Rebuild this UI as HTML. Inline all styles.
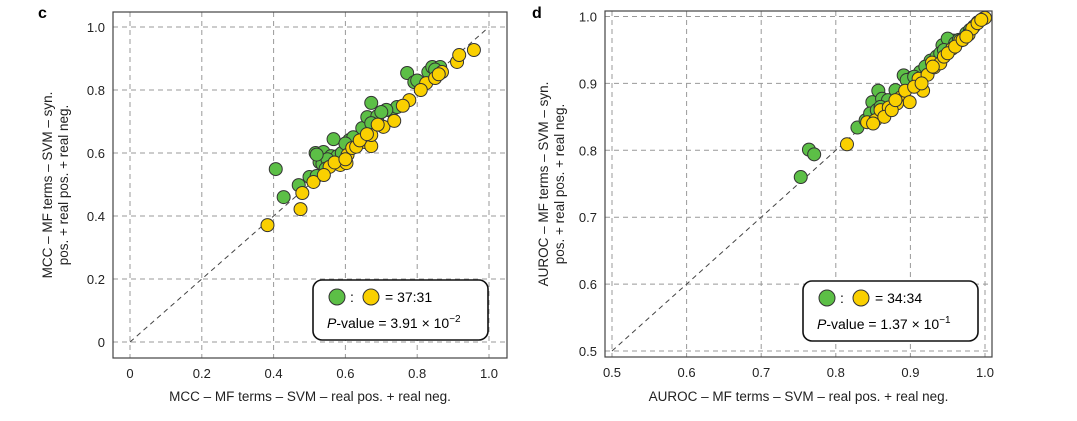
<!DOCTYPE html>
<html><head><meta charset="utf-8">
<style>
body{margin:0;background:#fff;}
svg{display:block;font-family:"Liberation Sans",Arial,sans-serif;}
</style></head>
<body>
<svg id="chart" width="1077" height="421" viewBox="0 0 1077 421" xmlns="http://www.w3.org/2000/svg">
<text x="38" y="18" font-size="16" font-weight="bold">c</text>
<text x="532" y="18" font-size="16" font-weight="bold">d</text>
<g id="panelC"></g>
<g id="panelD"></g>
</svg>
<script>
// Panel c (MCC)
const cTicks = [0, 0.2, 0.4, 0.6, 0.8, 1.0];
const cTickLabels = ["0", "0.2", "0.4", "0.6", "0.8", "1.0"];
const cGreenX = [.406,.428,.47,.50,.52,.517,.539,.528,.536,.56,.567,.578,.567,.611,.622,.647,.661,.672,.689,.672,.728,.744,.772,.792,.811,.831,.842,.864,.714,.55,.545,.59,.60,.70,.80,.85,.52];
const cGreenY = [.549,.46,.498,.524,.527,.60,.603,.571,.565,.59,.571,.59,.644,.641,.65,.679,.714,.759,.717,.695,.733,.746,.854,.825,.81,.857,.873,.873,.737,.58,.55,.60,.63,.73,.83,.865,.595];
const cYellowX = [.383,.475,.48,.511,.556,.586,.603,.606,.619,.653,.672,.672,.706,.736,.778,.825,.85,.869,.911,.917,.958,.57,.63,.64,.69,.76,.81,.86,.54,.60,.66];
const cYellowY = [.371,.422,.473,.508,.556,.562,.568,.594,.616,.635,.622,.657,.683,.702,.768,.822,.838,.857,.889,.911,.927,.57,.62,.64,.69,.75,.80,.85,.53,.58,.66];
// Panel d (AUROC)
const dTicks = [0.5, 0.6, 0.7, 0.8, 0.9, 1.0];
const dTickLabels = ["0.5", "0.6", "0.7", "0.8", "0.9", "1.0"];
const dGreenX = [.753,.764,.771,.829,.84,.849,.857,.862,.891,.903,.884,.927,.943,.958,.99,.998,.846,.913,.95,.87,.88,.92,.935,.96,.975,.985,.855,.895,.94,.965,.98,.86,.905,.945];
const dGreenY = [.760,.801,.794,.834,.845,.872,.889,.877,.912,.909,.887,.934,.957,.964,.991,.997,.855,.917,.967,.875,.89,.925,.94,.96,.975,.985,.86,.905,.945,.965,.98,.865,.91,.95];
const dYellowX = [.815,.842,.853,.86,.871,.887,.893,.899,.917,.911,.923,.932,.929,.956,.967,.978,.983,1.0,.882,.865,.875,.905,.915,.94,.945,.95,.96,.97,.975,.99,.995,.85,.88,.93];
const dYellowY = [.809,.842,.845,.86,.864,.879,.889,.872,.889,.907,.913,.924,.931,.952,.964,.973,.982,.998,.87,.85,.86,.895,.9,.93,.94,.945,.955,.965,.97,.99,.995,.84,.875,.925];

const NS = "http://www.w3.org/2000/svg";
function mk(parent, tag, attrs){const e=document.createElementNS(NS,tag);for(const k in attrs)e.setAttribute(k,attrs[k]);parent.appendChild(e);return e;}

function drawPanel(g, cfg){
  const sx = v => cfg.x0 + (v - cfg.min) * cfg.kx;
  const sy = v => cfg.y0 - (v - cfg.min) * cfg.ky;
  // grid
  cfg.ticks.forEach((t,i)=>{
    const gl = mk(g,'line',{x1:sx(t),x2:sx(t),y1:cfg.top,y2:cfg.bottom,stroke:'#999','stroke-dasharray':'5,4','stroke-width':1});
    
    
    const hl = mk(g,'line',{x1:cfg.left,x2:cfg.right,y1:sy(t),y2:sy(t),stroke:'#999','stroke-dasharray':'5,4','stroke-width':1});
    
    
    const xt = mk(g,'text',{x:sx(t),y:cfg.bottom+20,'font-size':13,'text-anchor':'middle',fill:'#222'});
    xt.textContent = cfg.labels[i];
    
    
    const yt = mk(g,'text',{x:cfg.left-8,y:sy(t)+5,'font-size':13,'text-anchor':'end',fill:'#222'});
    yt.textContent = cfg.labels[i];
    
    
  });
  // diagonal
  const dg = mk(g,'line',{x1:sx(cfg.min),y1:sy(cfg.min),x2:sx(1),y2:sy(1),stroke:'#444','stroke-dasharray':'5,4','stroke-width':1});
  
  
  // points
  const drawPts=(xs,ys,col,name)=>{xs.forEach((v,i)=>{
    const c = mk(g,'circle',{cx:sx(v),cy:sy(ys[i]),r:6.5,fill:col,stroke:'#333','stroke-width':1});
    
    
  });};
  drawPts(cfg.gx,cfg.gy,'#5cbf46','green-point');
  drawPts(cfg.yx,cfg.yy,'#fad000','yellow-point');
  // frame
  const fr = mk(g,'rect',{x:cfg.left,y:cfg.top,width:cfg.right-cfg.left,height:cfg.bottom-cfg.top,fill:'none',stroke:'#444','stroke-width':1.2});
  
  
  // legend
  const L = cfg.leg;
  const lb = mk(g,'rect',{x:L.x,y:L.y,width:L.w,height:60,rx:9,fill:'#fff',stroke:'#111','stroke-width':1.6});
  
  
  const lg = mk(g,'circle',{cx:L.x+24,cy:L.y+17,r:8,fill:'#5cbf46',stroke:'#333'});
  
  
  const lc = mk(g,'text',{x:L.x+37,y:L.y+22,'font-size':14});lc.textContent=':';
  
  
  const ly = mk(g,'circle',{cx:L.x+58,cy:L.y+17,r:8,fill:'#fad000',stroke:'#333'});
  
  
  const lr = mk(g,'text',{x:L.x+72,y:L.y+22,'font-size':14});lr.textContent='= '+L.ratio;
  
  
  const lp = mk(g,'text',{x:L.x+14,y:L.y+48,'font-size':14});
  lp.innerHTML = '<tspan font-style="italic">P</tspan>-value = '+L.p+' × 10<tspan dy="-6" font-size="10">'+L.exp+'</tspan>';
  
  
  // axis titles
  const xt = mk(g,'text',{x:(cfg.left+cfg.right)/2,y:401,'font-size':13.5,'text-anchor':'middle',fill:'#222'});
  xt.textContent = cfg.xTitle;
  
  
  const cy=(cfg.top+cfg.bottom)/2;
  const yt1 = mk(g,'text',{x:0,y:0,'font-size':13.5,'text-anchor':'middle',fill:'#222',transform:`translate(${cfg.ytx},${cy}) rotate(-90)`});
  yt1.textContent = cfg.yTitle1;
  
  
  const yt2 = mk(g,'text',{x:0,y:0,'font-size':13.5,'text-anchor':'middle',fill:'#222',transform:`translate(${cfg.ytx+16},${cy}) rotate(-90)`});
  yt2.textContent = cfg.yTitle2;
  
  
}

drawPanel(document.getElementById('panelC'),{
  min:0,x0:130,y0:342,kx:359,ky:315,left:113,right:507,top:12,bottom:358,
  ticks:cTicks,labels:cTickLabels,gx:cGreenX,gy:cGreenY,yx:cYellowX,yy:cYellowY,
  leg:{x:313,y:280,w:175,ratio:'37:31',p:'3.91',exp:'−2'},
  xTitle:'MCC – MF terms – SVM – real pos. + real neg.',
  yTitle1:'MCC – MF terms – SVM – syn.',yTitle2:'pos. + real pos. + real neg.',ytx:52
});
drawPanel(document.getElementById('panelD'),{
  min:0.5,x0:612,y0:351,kx:746,ky:669,left:605,right:992,top:11,bottom:357,
  ticks:dTicks,labels:dTickLabels,gx:dGreenX,gy:dGreenY,yx:dYellowX,yy:dYellowY,
  leg:{x:803,y:281,w:175,ratio:'34:34',p:'1.37',exp:'−1'},
  xTitle:'AUROC – MF terms – SVM – real pos. + real neg.',
  yTitle1:'AUROC – MF terms – SVM – syn.',yTitle2:'pos. + real pos. + real neg.',ytx:548
});
</script>
</body></html>
